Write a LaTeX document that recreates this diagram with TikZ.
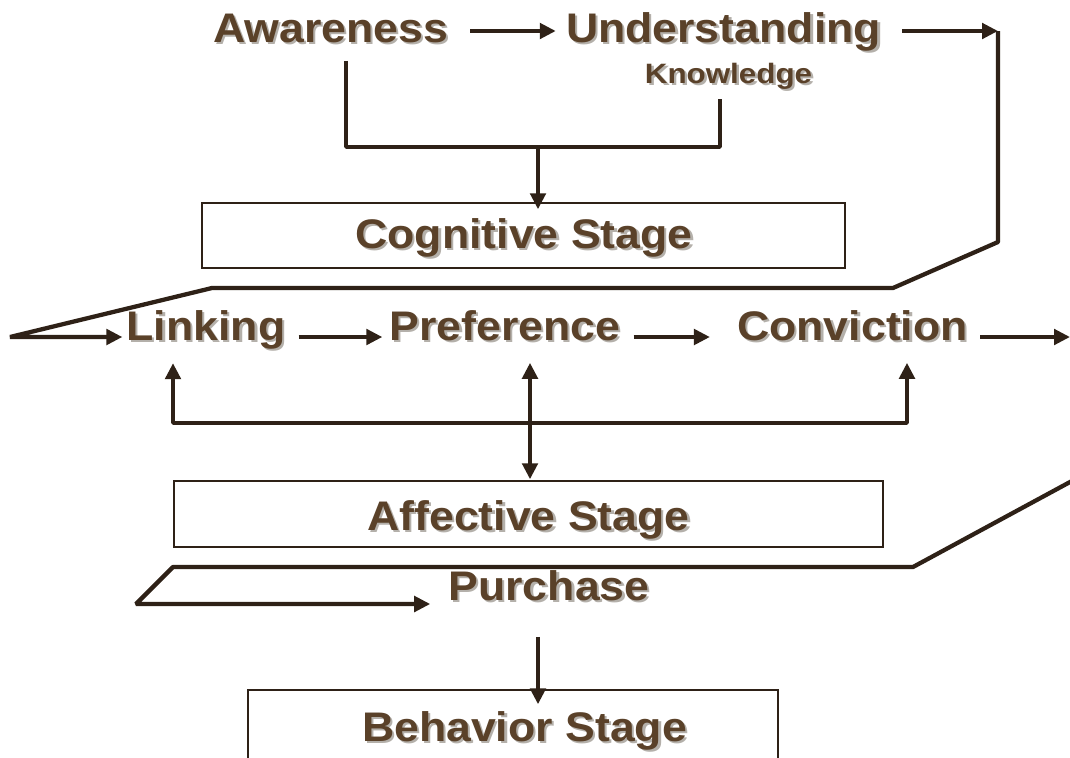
\documentclass[tikz,border=0pt]{standalone}
\usepackage{graphicx}
\usepackage{fontspec}
\setmainfont{Liberation Sans}
\usetikzlibrary{arrows.meta,calc}
\definecolor{txtc}{HTML}{5A4129}
\definecolor{linec}{HTML}{2E2117}
\definecolor{shdc}{HTML}{B4B0AA}
\newcommand{\shtx}[2][1.08]{\scalebox{#1}[1]{\rlap{\kern1.6pt\raisebox{-1.6pt}{\textcolor{shdc}{#2}}}#2}}
\tikzset{
  lab/.style={inner sep=0pt, anchor=base, text=txtc, font=\fontsize{31}{31}\selectfont\bfseries},
  smalllab/.style={lab, font=\fontsize{21}{21}\selectfont\bfseries},
  stagebox/.style={draw=linec, line width=1.1pt, inner sep=0pt},
  conn/.style={draw=linec, line width=3.2pt, line join=bevel},
  arr/.style={conn, -{Triangle[length=12pt,width=11.5pt]}},
  darr/.style={conn, {Triangle[length=12pt,width=11.5pt]}-{Triangle[length=12pt,width=11.5pt]}},
}
\begin{document}
\begin{tikzpicture}[x=0.75pt,y=-0.75pt]
\clip (0,0) rectangle (1070,757);
\fill[white] (0,0) rectangle (1070,757);

% boxes
\node[stagebox, minimum width=482.25pt, minimum height=48.75pt] (cogbox) at (523.5,235.5) {};
\node[stagebox, minimum width=531.75pt, minimum height=49.5pt] (affbox) at (528.5,514) {};
\node[stagebox, minimum width=397.5pt, minimum height=82.5pt] (behbox) at (513,745) {};

% labels
\node[lab] (aw) at (330.5,42) {\shtx{Awareness}};
\node[lab] (un) at (723.5,42) {\shtx{Understanding}};
\node[smalllab] (kn) at (728.5,83) {\shtx[1.12]{Knowledge}};
\node[lab] (cog) at (524,248) {\shtx{Cognitive Stage}};
\node[lab] (lk) at (206,340) {\shtx{Linking}};
\node[lab] (pf) at (505,340) {\shtx{Preference}};
\node[lab] (cv) at (852.5,340) {\shtx{Conviction}};
\node[lab] (aff) at (528.5,530) {\shtx{Affective Stage}};
\node[lab] (pu) at (549,600) {\shtx{Purchase}};
\node[lab] (beh) at (524.5,741) {\shtx{Behavior Stage}};

% helper coordinates
\coordinate (y1) at (0,31);
\coordinate (y2) at (0,337);
\coordinate (c1) at (998,31);
\coordinate (c2) at (998,242);
\coordinate (c3) at (893,288);
\coordinate (c4) at (212,288);
\coordinate (c5) at (10,337);
\coordinate (c6) at (1070,337);
\coordinate (b3) at (538,145);
\coordinate (j1) at (173,423);
\coordinate (j2) at (907,423);
\coordinate (d1) at (1080,476.6);
\coordinate (d2) at (913,567);
\coordinate (d3) at (173,567);
\coordinate (d4) at (136,604);

% top row
\draw[arr] ($(aw.east |- y1)+(22,0)$) -- ($(un.west |- y1)+(-10,0)$);
\draw[arr] ($(un.east |- y1)+(21,0)$) -- (c1);
\draw[arr] (c1) -- (c2) -- (c3) -- (c4) -- (c5) -- ($(lk.west |- y2)+(-4,0)$);

% cognitive bracket
\draw[conn] ($(aw.south)+(15.5,16)$) |- ($(kn.south)+(-8.5,56)$) -- ($(kn.south)+(-8.5,8)$);
\draw[arr] (b3) -- ($(b3 |- cogbox.north)+(0,7)$);

% affective row
\draw[arr] ($(lk.east |- y2)+(13,0)$) -- ($(pf.west |- y2)+(-7,0)$);
\draw[arr] ($(pf.east |- y2)+(13,0)$) -- ($(cv.west |- y2)+(-27,0)$);
\draw[arr] ($(cv.east |- y2)+(12,0)$) -- (c6);

% affective bracket
\draw[darr] ($(j1 |- lk.south)+(0,12)$) -- (j1) -- (j2) -- ($(j2 |- cv.south)+(0,20)$);
\draw[darr] ($(pf.south)+(25,20)$) -- ($(pf.south |- affbox.north)+(25,-1)$);

% purchase
\draw[arr] (d1) -- (d2) -- (d3) -- (d4) -- ($(pu.west |- d4)+(-18,0)$);
\draw[arr] ($(pu.south)+(-11,34)$) -- ($(pu.south |- behbox.north)+(-11,15)$);
\end{tikzpicture}
\end{document}
